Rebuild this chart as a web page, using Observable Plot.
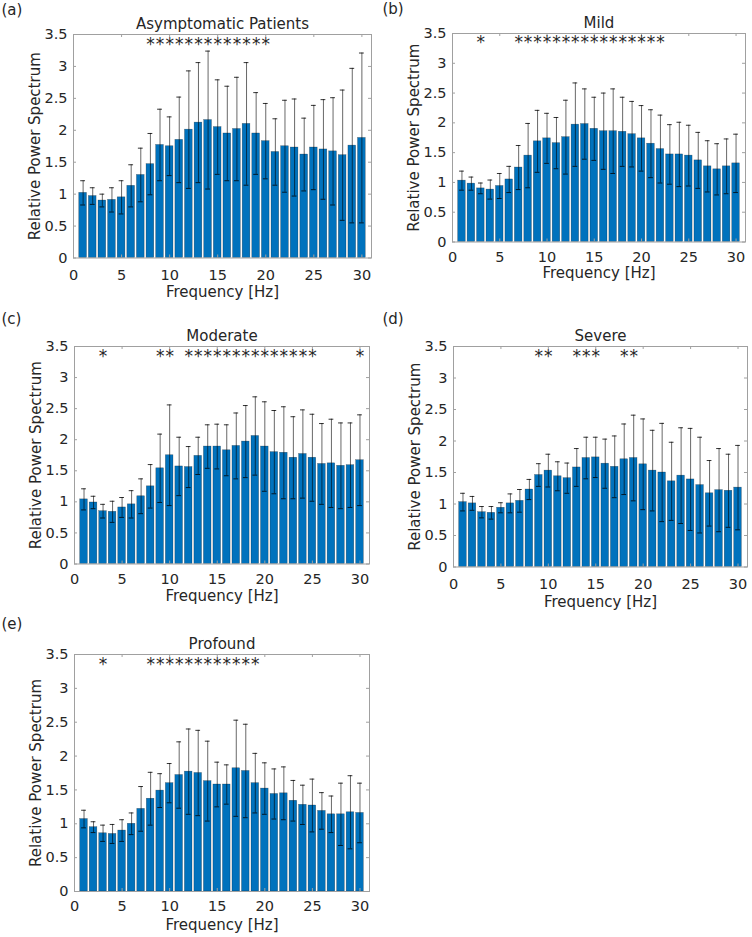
<!DOCTYPE html>
<html><head><meta charset="utf-8">
<script src="https://cdn.jsdelivr.net/npm/d3@7"></script>
<script src="https://cdn.jsdelivr.net/npm/@observablehq/plot@0.6"></script>
<style>
body{margin:0;background:#fff;}
#root{position:relative;width:752px;height:937px;overflow:hidden;font-family:"DejaVu Sans",sans-serif;background:#fff;}
.panel{position:absolute;overflow:hidden;}
.letter{position:absolute;font-size:15px;line-height:15px;color:#262626;white-space:nowrap;}
</style></head><body><div id="root"></div>
<script>
const freq = [1,2,3,4,5,6,7,8,9,10,11,12,13,14,15,16,17,18,19,20,21,22,23,24,25,26,27,28,29,30];

const meanA = [1.02,0.97,0.90,0.91,0.95,1.13,1.30,1.47,1.77,1.75,1.85,2.01,2.12,2.16,2.05,1.95,2.02,2.10,1.95,1.83,1.66,1.75,1.73,1.62,1.73,1.70,1.67,1.61,1.76,1.88];
const sdA   = [0.19,0.13,0.10,0.19,0.26,0.33,0.42,0.48,0.56,0.46,0.67,0.92,0.94,1.08,0.74,0.74,0.81,0.96,0.64,0.59,0.52,0.72,0.76,0.57,0.66,0.78,0.84,1.02,1.21,1.33];

const meanB = [1.03,0.98,0.90,0.88,0.94,1.05,1.25,1.45,1.69,1.74,1.66,1.76,1.97,1.98,1.90,1.86,1.86,1.85,1.81,1.74,1.65,1.56,1.47,1.47,1.45,1.37,1.27,1.22,1.27,1.32];
const sdB   = [0.16,0.11,0.09,0.16,0.21,0.22,0.37,0.54,0.52,0.42,0.43,0.62,0.70,0.59,0.53,0.64,0.71,0.58,0.55,0.55,0.57,0.57,0.50,0.54,0.51,0.47,0.43,0.43,0.46,0.49];

const meanC = [1.04,0.99,0.85,0.84,0.91,0.96,1.09,1.25,1.54,1.75,1.57,1.56,1.74,1.89,1.89,1.83,1.90,1.97,2.06,1.89,1.80,1.79,1.71,1.77,1.71,1.61,1.62,1.58,1.59,1.67];
const sdC   = [0.17,0.10,0.11,0.17,0.16,0.22,0.28,0.35,0.55,0.81,0.47,0.33,0.30,0.35,0.36,0.41,0.53,0.58,0.63,0.72,0.67,0.74,0.66,0.71,0.70,0.65,0.71,0.69,0.68,0.73];

const meanD = [1.03,1.01,0.87,0.86,0.94,1.01,1.05,1.23,1.46,1.53,1.44,1.41,1.58,1.73,1.74,1.64,1.59,1.71,1.73,1.63,1.53,1.50,1.36,1.45,1.39,1.30,1.17,1.22,1.21,1.26];
const sdD   = [0.14,0.11,0.09,0.10,0.08,0.15,0.18,0.16,0.18,0.26,0.23,0.24,0.30,0.33,0.32,0.39,0.49,0.56,0.68,0.72,0.64,0.78,0.62,0.76,0.81,0.76,0.52,0.66,0.58,0.67];

const meanE = [1.07,0.95,0.86,0.85,0.90,1.00,1.22,1.37,1.49,1.60,1.72,1.77,1.75,1.63,1.58,1.58,1.82,1.78,1.60,1.52,1.44,1.45,1.34,1.28,1.27,1.19,1.14,1.14,1.17,1.16];
const sdE   = [0.13,0.08,0.12,0.14,0.16,0.16,0.33,0.39,0.25,0.29,0.49,0.63,0.63,0.59,0.33,0.29,0.71,0.69,0.44,0.38,0.37,0.39,0.30,0.29,0.39,0.27,0.27,0.46,0.54,0.44];

const sigA = [8,9,10,11,12,13,14,15,16,17,18,19,20];
const sigB = [3,7,8,9,10,11,12,13,14,15,16,17,18,19,20,21,22];
const sigC = [3,9,10,12,13,14,15,16,17,18,19,20,21,22,23,24,25,30];
const sigD = [9,10,13,14,15,18,19];
const sigE = [3,8,9,10,11,12,13,14,15,16,17,18,19];

const titles  = ["Asymptomatic Patients","Mild","Moderate","Severe","Profound"];
const letters = ["(a)","(b)","(c)","(d)","(e)"];
const xTicks = [0,5,10,15,20,25,30];
const yTicks = [0,0.5,1,1.5,2,2.5,3,3.5];
const xLabel = "Frequency [Hz]";
const yLabel = "Relative Power Spectrum";

// layout (frame edges in page px, bottom of panel box, label offsets)
const layout = [
  {px:0,   L:73,  R:371, T:34,  B:257.5, clip:301,   xlDy:39,   tp:12,  lx:1.5,   lTop:2.8},
  {px:376, L:452, R:745, T:33,  B:241.5, clip:283,   xlDy:36,   tp:10,  lx:382.5, lTop:2.3},
  {px:0,   L:74,  R:369, T:346, B:563.5, clip:606,   xlDy:36.5, tp:9.5, lx:1.5,   lTop:312.3},
  {px:376, L:453, R:747, T:346, B:566.5, clip:611,   xlDy:39.5, tp:11.5,lx:382.5, lTop:312.3},
  {px:0,   L:74,  R:369, T:654, B:891,   clip:937,   xlDy:38,   tp:9,   lx:1.5,   lTop:617.3}
];
const means = [meanA,meanB,meanC,meanD,meanE];
const sds = [sdA,sdB,sdC,sdD,sdE];
const sigs = [sigA,sigB,sigC,sigD,sigE];

const root = document.getElementById("root");
const axisGrey = "#a0a0a0";
const textCol = "#262626";

layout.forEach((g, k) => {
  const rows = freq.map((f, i) => ({f, m: means[k][i], s: sds[k][i]}));
  const mL = g.L - g.px, mT = 40, mR = 4, mB = 48;
  const pw = g.R - g.L, ph = g.B - g.T;
  const W = mL + pw + mR, H = mT + ph + mB;
  const chart = Plot.plot({
    width: W, height: H,
    marginLeft: mL, marginRight: mR, marginTop: mT, marginBottom: mB,
    x: {domain: [0, 31]},
    y: {domain: [0, 3.5]},
    style: {fontFamily: '"DejaVu Sans", sans-serif', fontSize: "15px", color: textCol, background: "white", overflow: "visible"},
    marks: [
      Plot.rect(rows, {x1: d => d.f - 0.4, x2: d => d.f + 0.4, y1: 0, y2: "m", fill: "#0072BD", stroke: "#000", strokeOpacity: 0.45, strokeWidth: 0.5}),
      Plot.ruleX(rows, {x: "f", y1: d => d.m - d.s, y2: d => d.m + d.s, stroke: "#000", strokeWidth: 0.6}),
      Plot.ruleY(rows, {y: d => d.m + d.s, x1: d => d.f - 0.25, x2: d => d.f + 0.25, stroke: "#000", strokeWidth: 0.8}),
      Plot.ruleY(rows, {y: d => d.m - d.s, x1: d => d.f - 0.25, x2: d => d.f + 0.25, stroke: "#000", strokeWidth: 0.8}),
      Plot.frame({stroke: axisGrey, strokeWidth: 1}),
      Plot.tickX(xTicks, {x: d => d, insetTop: ph - 3, stroke: axisGrey}),
      Plot.tickX(xTicks, {x: d => d, insetBottom: ph - 3, stroke: axisGrey}),
      Plot.tickY(yTicks, {y: d => d, insetRight: pw - 3, stroke: axisGrey}),
      Plot.tickY(yTicks, {y: d => d, insetLeft: pw - 3, stroke: axisGrey}),
      Plot.axisX({ticks: xTicks, tickSize: 0, tickPadding: g.tp, fontSize: 14.5, tickFormat: d => String(d), label: null}),
      Plot.axisY({ticks: yTicks, tickSize: 0, tickPadding: 6, fontSize: 14.5, tickFormat: d => String(d), label: null}),
      Plot.text(sigs[k], {x: d => d, y: 3.4, text: () => "*", fontSize: 17, dy: 3.4, fill: textCol}),
      Plot.text([titles[k]], {frameAnchor: "top", lineAnchor: "bottom", dy: -6, text: d => d, fontSize: 15, fill: textCol}),
      Plot.text([xLabel], {frameAnchor: "bottom", lineAnchor: "bottom", dy: g.xlDy, text: d => d, fontSize: 15, fill: textCol}),
      Plot.text([yLabel], {frameAnchor: "left", textAnchor: "middle", rotate: -90, dx: -38, text: d => d, fontSize: 15, fill: textCol})
    ]
  });
  const wrap = document.createElement("div");
  wrap.className = "panel";
  const top = g.T - mT;
  wrap.style.left = g.px + "px";
  wrap.style.top = top + "px";
  wrap.style.width = W + "px";
  wrap.style.height = (g.clip - top) + "px";
  wrap.appendChild(chart);
  root.appendChild(wrap);

  const lab = document.createElement("div");
  lab.className = "letter";
  lab.style.left = g.lx + "px";
  lab.style.top = g.lTop + "px";
  lab.textContent = letters[k];
  root.appendChild(lab);
});
</script>
</body></html>
